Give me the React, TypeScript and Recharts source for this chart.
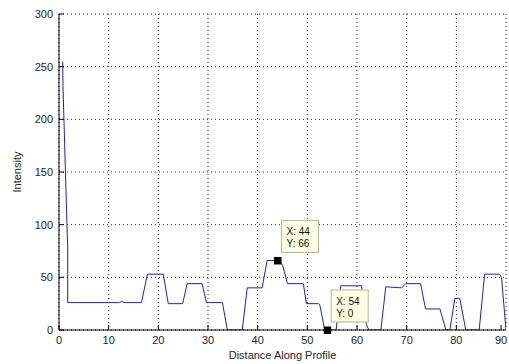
import { LineChart, Line, XAxis, YAxis, CartesianGrid, ReferenceDot } from 'recharts';

// intensity profile (distance, intensity)
const profileX = [
  0.75, 0.8, 1.6, 1.75, 1.75, 12, 12.6, 13.3, 16.6, 17.8, 21, 22, 24.9, 25.8, 28.8, 29.7,
  32.9, 33.9, 36.9, 37.9, 40.9, 41.9, 44, 45, 46, 49.2, 49.8, 52.2, 52.5, 53.5, 55.8,
  56.7, 60.9, 61.9, 62.4, 64.8, 65.8, 69, 69.8, 72.8, 73.8, 76.7, 77.9, 78.7, 79.7,
  80.7, 81.9, 84.6, 85.7, 88.7, 89.1, 90,
];
const profileY = [
  255, 232, 100, 80, 26, 26, 27, 26, 26, 53, 53, 25, 25, 44, 44, 26,
  26, 0, 0, 40, 40, 66, 66, 62, 44, 44, 25, 25, 24, 0, 0,
  42, 42, 5, 0, 0, 41, 40, 44, 44, 20, 20, 0, 0, 30,
  30, 0, 0, 53, 53, 50, 0,
];

const xTicks = [0, 10, 20, 30, 40, 50, 60, 70, 80, 90];
const yTicks = [0, 50, 100, 150, 200, 250, 300];

// data tips shown on the plot
const tipX = [44, 54];
const tipY = [66, 0];

const data = profileX.map((d, i) => ({ d, v: profileY[i] }));

const FONT = '"Liberation Sans", Arial, Helvetica, sans-serif';
const TEXT = '#262626';

const BottomTick = ({ x, y, payload }: any) => (
  <g>
    <line x1={x} y1={y} x2={x} y2={y - 5} stroke="#000" />
    <text x={x} y={y + 14} textAnchor="middle" fontSize={11} fontFamily={FONT} fill={TEXT}>
      {payload.value}
    </text>
  </g>
);

const LeftTick = ({ x, y, payload }: any) => (
  <g>
    <line x1={x} y1={y} x2={x + 5} y2={y} stroke="#000" />
    <text x={x - 6} y={y + 4} textAnchor="end" fontSize={11} fontFamily={FONT} fill={TEXT}>
      {payload.value}
    </text>
  </g>
);

const TopTick = ({ x, y }: any) => <line x1={x} y1={y} x2={x} y2={y + 5} stroke="#000" />;
const RightTick = ({ x, y }: any) => <line x1={x} y1={y} x2={x - 5} y2={y} stroke="#000" />;

function DataTip({ cx, cy, xv, yv }: { cx: number; cy: number; xv: number; yv: number }) {
  return (
    <g>
      <rect x={cx + 4} y={cy - 40} width={37} height={32} fill="#ffffe1" stroke="#b4b4a0" />
      <text x={cx + 9} y={cy - 25.5} fontSize={10} fontFamily={FONT} fill="#111">{`X: ${xv}`}</text>
      <text x={cx + 9} y={cy - 13} fontSize={10} fontFamily={FONT} fill="#111">{`Y: ${yv}`}</text>
      <rect x={cx - 3.5} y={cy - 3.5} width={7.5} height={7.5} fill="#000" />
    </g>
  );
}

export default function App() {
  return (
    <div style={{ position: 'absolute', left: 0, top: 0, background: '#fff' }}>
      <LineChart width={509} height={364} data={data} margin={{ top: 14, right: 3, bottom: 0, left: 0 }}>
        <CartesianGrid stroke="#222" strokeDasharray="1 3" />
        <XAxis
          dataKey="d"
          type="number"
          domain={[0, 90]}
          ticks={xTicks}
          height={34}
          tickSize={0}
          tickMargin={0}
          tick={BottomTick}
          axisLine={{ stroke: '#000' }}
          allowDataOverflow
          label={{ value: 'Distance Along Profile', position: 'insideBottom', offset: 5, fontSize: 11, fontFamily: FONT, fill: TEXT }}
        />
        <XAxis
          xAxisId="top"
          orientation="top"
          type="number"
          domain={[0, 90]}
          ticks={xTicks}
          height={0}
          tickSize={0}
          tickMargin={0}
          tick={TopTick}
          axisLine={{ stroke: '#000' }}
        />
        <YAxis
          type="number"
          domain={[0, 300]}
          ticks={yTicks}
          width={59}
          tickSize={0}
          tickMargin={0}
          tick={LeftTick}
          axisLine={{ stroke: '#000' }}
          allowDataOverflow
          label={{
            value: 'Intensity',
            angle: -90,
            position: 'insideLeft',
            offset: 17,
            fontSize: 11,
            fontFamily: FONT,
            fill: TEXT,
            style: { textAnchor: 'middle' },
          }}
        />
        <YAxis
          yAxisId="right"
          orientation="right"
          type="number"
          domain={[0, 300]}
          ticks={yTicks}
          width={0}
          tickSize={0}
          tickMargin={0}
          tick={RightTick}
          axisLine={{ stroke: '#000' }}
        />
        <Line
          type="linear"
          dataKey="v"
          stroke="#2222b0"
          strokeWidth={1}
          dot={false}
          activeDot={false}
          isAnimationActive={false}
        />
        {tipX.map((tx, i) => (
          <ReferenceDot
            key={i}
            x={tx}
            y={tipY[i]}
            r={4}
            ifOverflow="visible"
            shape={(p: any) => <DataTip cx={p.cx} cy={p.cy} xv={tx} yv={tipY[i]} />}
          />
        ))}
      </LineChart>
    </div>
  );
}
